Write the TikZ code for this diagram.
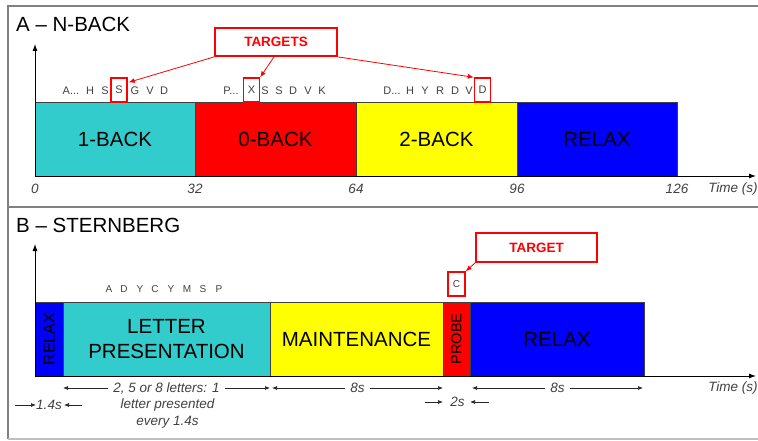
\documentclass[tikz,border=0pt]{standalone}
\usepackage{fontspec}
\setmainfont{Liberation Sans}
\usetikzlibrary{arrows.meta,calc}

\definecolor{barcyan}{HTML}{33CCCC}
\definecolor{barred}{HTML}{FF0000}
\definecolor{baryellow}{HTML}{FFFF00}
\definecolor{barblue}{HTML}{0000FF}
\definecolor{seqgray}{HTML}{404040}
\definecolor{framegray}{HTML}{808080}

% three dots for truncated letter streams
\newcommand{\seqdots}{.{}.{}.}

\begin{document}
\begin{tikzpicture}[x=1pt,y=-1pt,
  panelframe/.style={draw=framegray, line width=1.4pt},
  paneltitle/.style={anchor=base west, inner sep=0pt, font=\fontsize{20.5}{24}\selectfont},
  bar/.style={draw=black!75, line width=0.8pt, anchor=north west, outer sep=0pt,
    inner sep=0pt, minimum height=74, align=center,
    font=\fontsize{20.5}{25}\selectfont},
  axisline/.style={draw=black, line width=0.9pt, -{Latex[length=7pt,width=5pt]}},
  ticklabel/.style={text=seqgray, font=\fontsize{13.5}{16}\selectfont\itshape},
  seq/.style={text=seqgray, inner sep=0pt, font=\fontsize{11}{13}\selectfont},
  seqsmall/.style={text=seqgray, inner sep=0pt, font=\fontsize{10}{12}\selectfont},
  seqbox/.style={draw=red, line width=1.4pt, minimum width=16, minimum height=24},
  callout/.style={draw=red, line width=1.8pt, text=red, inner sep=0pt,
    font=\fontsize{13.5}{16}\selectfont\bfseries},
  redarrow/.style={draw=red, line width=0.8pt, -{Latex[length=6pt,width=5pt]}},
  dimarrow/.style={draw=black!85, line width=0.7pt,
    {Latex[length=5pt,width=4pt]}-{Latex[length=5pt,width=4pt]}},
  dimouter/.style={draw=black!85, line width=0.7pt, -{Latex[length=5pt,width=4pt]}},
  dimlabel/.style={text=seqgray, font=\fontsize{13.5}{17}\selectfont\itshape}
]
\useasboundingbox (0,0) rectangle (758,441);

% outer frame and panel divider
\draw[panelframe] (758,6) -- (8,6) -- (8,439);
\draw[draw=framegray!50, line width=1.2pt] (8,439) -- (758,439);
\draw[panelframe] (8,207) -- (758,207);

% ---------------- Panel A: N-back ----------------
\node[paneltitle] (titleA) at (16,32) {A – N-BACK};

\node[bar, fill=barcyan,   minimum width=160] (oneback)  at (35,102) {1-BACK};
\node[bar, fill=barred,    minimum width=161] (zeroback) at (oneback.north east) {0-BACK};
\node[bar, fill=baryellow, minimum width=161] (twoback)  at (zeroback.north east) {2-BACK};
\node[bar, fill=barblue,   minimum width=160] (relaxA)   at (twoback.north east) {RELAX};

\coordinate (xendA) at (756,176);
\coordinate (yendA) at (35,44);
\draw[axisline] (oneback.south west) -- (xendA);
\draw[axisline] (oneback.south west) -- (yendA);

\node[ticklabel] (tick0)   at (35,189)  {0};
\node[ticklabel] (tick32)  at (195,189) {32};
\node[ticklabel] (tick64)  at (356,189) {64};
\node[ticklabel] (tick96)  at (517,189) {96};
\node[ticklabel] (tick126) at (677,189) {126};
\node[ticklabel] (timeA)   at (733,189) {Time (s)};

% letter streams
\foreach \x/\l [count=\i] in {71/A\seqdots,90/H,105/S,135/G,150/V,164/D}
  \node[seq] (seqA\i) at (\x,91) {\l};
\foreach \x/\l [count=\i] in {231/P\seqdots,265/S,279/S,293/D,308/V,322/K}
  \node[seq] (seqB\i) at (\x,91) {\l};
\foreach \x/\l [count=\i] in {392/D\seqdots,410/H,425/Y,440/R,455/D,469/V}
  \node[seq] (seqC\i) at (\x,91) {\l};

\node[seq, seqbox] (tS) at (119,90)   {S};
\node[seq, seqbox] (tX) at (251.5,90) {X};
\node[seq, seqbox] (tD) at (482.5,90) {D};

\node[callout, minimum width=122, minimum height=28] (targets) at (276,42) {TARGETS};
\draw[redarrow] (targets.south west) -- ($(tS.north east)+(1,5)$);
\draw[redarrow] ($(targets.south)+(-2,0)$) -- (tX.north east);
\draw[redarrow] (targets.south east) -- (tD.north west);

% ---------------- Panel B: Sternberg ----------------
\node[paneltitle] (titleB) at (16,233) {B – STERNBERG};

\node[bar, fill=barblue,   minimum width=28]  (relaxB1) at (35,302)
  {\fontsize{16}{16}\selectfont\rotatebox{90}{RELAX}};
\node[bar, fill=barcyan,   minimum width=207] (letters) at (relaxB1.north east)
  {LETTER\\PRESENTATION};
\node[bar, fill=baryellow, minimum width=173] (maint)   at (letters.north east) {MAINTENANCE};
\node[bar, fill=barred,    minimum width=27]  (probe)   at (maint.north east)
  {\fontsize{14.5}{14.5}\selectfont\rotatebox{90}{PROBE}};
\node[bar, fill=barblue,   minimum width=174] (relaxB2) at (probe.north east) {RELAX};

\coordinate (xendB) at (756,376);
\coordinate (yendB) at (35,244);
\draw[axisline] (relaxB1.south west) -- (xendB);
\draw[axisline] (relaxB1.south west) -- (yendB);
\node[ticklabel] (timeB) at (733,388) {Time (s)};

\foreach \x/\l [count=\i] in {109/A,124/D,140/Y,155/C,171/Y,187/M,203/S,219/P}
  \node[seqsmall] (memset\i) at (\x,289) {\l};

\node[seqsmall, seqbox, minimum width=17] (probeC) at (456.5,284) {C};
\node[callout, minimum width=121, minimum height=29] (target) at (536.5,247.5) {TARGET};
\draw[redarrow] (target.south west) -- (probeC.north east);

% durations
\draw[dimarrow] ($(letters.south west)+(0,12)$) --
  node[dimlabel, fill=white, inner sep=5pt] (lpdur) {2, 5 or 8 letters: 1}
  ($(letters.south east)+(0,12)$);
\node[dimlabel, align=center, inner sep=0pt] (lpdur2) at ($(letters.south)+(1,38)$)
  {letter presented\\every 1.4s};

\draw[dimarrow] ($(maint.south west)+(2,12)$) --
  node[dimlabel, fill=white, inner sep=5pt] (mdur) {8s}
  ($(maint.south east)+(0,12)$);
\draw[dimarrow] ($(relaxB2.south west)+(2,12)$) --
  node[dimlabel, fill=white, inner sep=5pt] (rdur) {8s}
  ($(relaxB2.south east)+(-1,12)$);

\node[dimlabel, inner sep=0pt] (r1dur) at ($(relaxB1.south)+(0,29)$) {1.4s};
\draw[dimouter] ($(relaxB1.south west)+(-20,29)$) -- ($(relaxB1.south west)+(1,29)$);
\draw[dimouter] ($(relaxB1.south east)+(19,29)$) -- ($(relaxB1.south east)+(1,29)$);

\node[dimlabel, inner sep=0pt] (pdur) at ($(probe.south)+(1,26)$) {2s};
\draw[dimouter] ($(probe.south west)+(-18,26)$) -- ($(probe.south west)+(0,26)$);
\draw[dimouter] ($(probe.south east)+(19,26)$) -- ($(probe.south east)+(0,26)$);

\end{tikzpicture}
\end{document}
